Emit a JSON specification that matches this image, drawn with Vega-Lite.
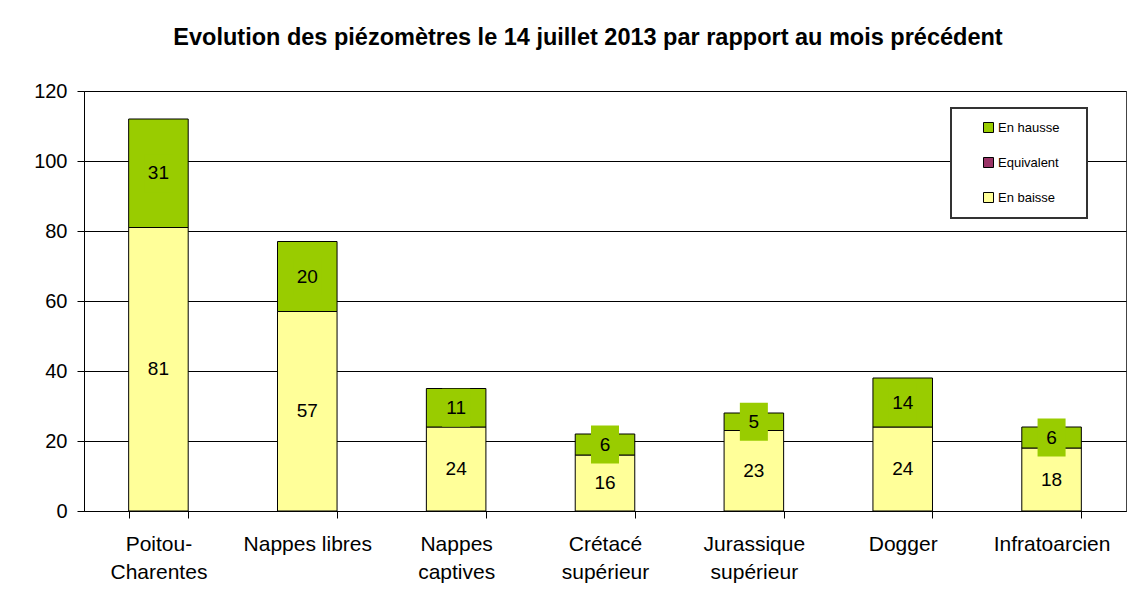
{
  "$schema": "https://vega.github.io/schema/vega-lite/v6.json",
  "width": 1042,
  "height": 420,
  "autosize": "none",
  "padding": {"left": 84, "top": 91, "right": 8, "bottom": 102},
  "background": "white",
  "title": {
    "text": "Evolution des piézomètres le 14 juillet 2013 par rapport au mois précédent",
    "font": "Liberation Sans",
    "fontSize": 23.5,
    "fontWeight": "bold",
    "color": "#000",
    "anchor": "middle",
    "frame": "group",
    "dx": -17,
    "offset": 32
  },
  "data": {
    "values": [
      {"zone": "Poitou-Charentes", "serie": "En baisse", "n": 81},
      {"zone": "Poitou-Charentes", "serie": "Equivalent", "n": 0},
      {"zone": "Poitou-Charentes", "serie": "En hausse", "n": 31},
      {"zone": "Nappes libres", "serie": "En baisse", "n": 57},
      {"zone": "Nappes libres", "serie": "Equivalent", "n": 0},
      {"zone": "Nappes libres", "serie": "En hausse", "n": 20},
      {"zone": "Nappes captives", "serie": "En baisse", "n": 24},
      {"zone": "Nappes captives", "serie": "Equivalent", "n": 0},
      {"zone": "Nappes captives", "serie": "En hausse", "n": 11},
      {"zone": "Crétacé supérieur", "serie": "En baisse", "n": 16},
      {"zone": "Crétacé supérieur", "serie": "Equivalent", "n": 0},
      {"zone": "Crétacé supérieur", "serie": "En hausse", "n": 6},
      {"zone": "Jurassique supérieur", "serie": "En baisse", "n": 23},
      {"zone": "Jurassique supérieur", "serie": "Equivalent", "n": 0},
      {"zone": "Jurassique supérieur", "serie": "En hausse", "n": 5},
      {"zone": "Dogger", "serie": "En baisse", "n": 24},
      {"zone": "Dogger", "serie": "Equivalent", "n": 0},
      {"zone": "Dogger", "serie": "En hausse", "n": 14},
      {"zone": "Infratoarcien", "serie": "En baisse", "n": 18},
      {"zone": "Infratoarcien", "serie": "Equivalent", "n": 0},
      {"zone": "Infratoarcien", "serie": "En hausse", "n": 6}
    ]
  },
  "transform": [
    {"calculate": "indexof(['En baisse','Equivalent','En hausse'], datum.serie)", "as": "ordre"},
    {"stack": "n", "groupby": ["zone"], "sort": [{"field": "ordre", "order": "ascending"}], "as": ["v0", "v1"]},
    {"calculate": "(datum.v0 + datum.v1) / 2", "as": "vmid"}
  ],
  "encoding": {
    "x": {
      "field": "zone",
      "type": "nominal",
      "sort": null,
      "scale": {"paddingInner": 0.6, "paddingOuter": 0.3},
      "axis": {
        "title": null,
        "labelAngle": 0,
        "labelExpr": "!isValid(datum.value) ? '' : datum.value == 'Poitou-Charentes' ? ['Poitou-', 'Charentes'] : datum.value == 'Nappes libres' ? datum.value : split(datum.value, ' ')",
        "labelFont": "Liberation Sans",
        "labelFontSize": 21,
        "labelColor": "#000",
        "labelLineHeight": 28,
        "labelPadding": 15,
        "tickBand": "extent",
        "tickSize": 7,
        "tickColor": "#000",
        "domainColor": "#000",
        "labelLimit": 300
      }
    }
  },
  "layer": [
    {
      "transform": [{"filter": "datum.n > 0"}],
      "mark": {"type": "bar", "stroke": "#000", "strokeWidth": 1},
      "encoding": {
        "y": {
          "field": "v0",
          "type": "quantitative",
          "scale": {"domain": [0, 120], "nice": false},
          "axis": {
            "title": null,
            "values": [0, 20, 40, 60, 80, 100, 120],
            "grid": true,
            "gridColor": "#000",
            "gridOpacity": 1,
            "tickSize": 7,
            "tickColor": "#000",
            "domainColor": "#000",
            "labelFont": "Liberation Sans",
            "labelFontSize": 20,
            "labelColor": "#000",
            "labelPadding": 10
          }
        },
        "y2": {"field": "v1"},
        "color": {
          "field": "serie",
          "type": "nominal",
          "scale": {
            "domain": ["En hausse", "Equivalent", "En baisse"],
            "range": ["#99CC00", "#993366", "#FFFF99"]
          },
          "legend": {
            "orient": "none",
            "legendX": 867,
            "legendY": 17,
            "title": " ",
            "titleOrient": "right",
            "titlePadding": 15,
            "titleFontSize": 12,
            "symbolType": "square",
            "symbolSize": 100,
            "symbolStrokeColor": "#000",
            "symbolStrokeWidth": 1,
            "symbolOpacity": 1,
            "labelFont": "Liberation Sans",
            "labelFontSize": 13,
            "labelColor": "#000",
            "labelOffset": 3,
            "symbolOffset": 18,
            "padding": 13,
            "rowPadding": 20,
            "strokeColor": "#333",
            "fillColor": "white"
          }
        }
      }
    },
    {
      "transform": [{"filter": "datum.serie == 'En hausse'"}],
      "mark": {
        "type": "point",
        "shape": "M-0.737,-1H0.737V1H-0.737Z",
        "size": 1444,
        "filled": true,
        "color": "#99CC00",
        "opacity": 1,
        "strokeWidth": 0
      },
      "encoding": {
        "y": {"field": "vmid", "type": "quantitative"}
      }
    },
    {
      "transform": [{"filter": "datum.n > 0"}],
      "mark": {"type": "text", "font": "Liberation Sans", "fontSize": 19, "color": "#000", "baseline": "middle"},
      "encoding": {
        "y": {"field": "vmid", "type": "quantitative"},
        "text": {"field": "n", "type": "quantitative"}
      }
    }
  ],
  "config": {
    "view": {"stroke": "#444", "strokeWidth": 1},
    "axis": {"domainWidth": 1, "tickWidth": 1, "gridWidth": 1},
    "legend": {"strokeWidth": 2}
  }
}
